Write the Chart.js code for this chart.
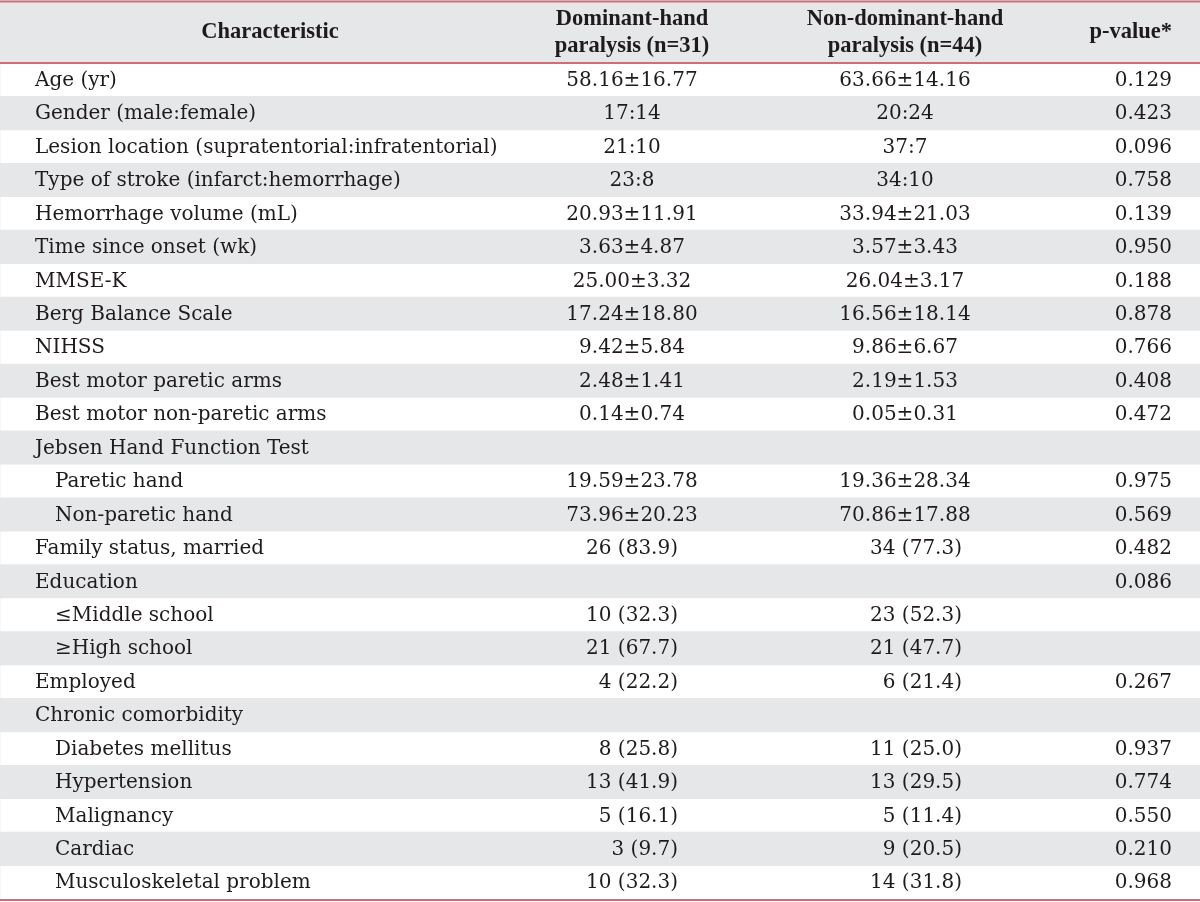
<!DOCTYPE html>
<html>
<head>
<meta charset="utf-8">
<script src="https://cdn.jsdelivr.net/npm/chart.js@4.4.1/dist/chart.umd.min.js"></script>
<style>
  html, body { margin: 0; padding: 0; background: #ffffff; }
  #wrap { width: 1200px; height: 902px; }
</style>
</head>
<body>
<div id="wrap"><canvas id="c" width="1200" height="902"></canvas></div>
<script>
// ---- table content ----
const headers = ["Characteristic", "Dominant-hand\nparalysis (n=31)", "Non-dominant-hand\nparalysis (n=44)", "p-value*"];

const characteristics = [
  "Age (yr)",
  "Gender (male:female)",
  "Lesion location (supratentorial:infratentorial)",
  "Type of stroke (infarct:hemorrhage)",
  "Hemorrhage volume (mL)",
  "Time since onset (wk)",
  "MMSE-K",
  "Berg Balance Scale",
  "NIHSS",
  "Best motor paretic arms",
  "Best motor non-paretic arms",
  "Jebsen Hand Function Test",
  "Paretic hand",
  "Non-paretic hand",
  "Family status, married",
  "Education",
  "\u2264Middle school",
  "\u2265High school",
  "Employed",
  "Chronic comorbidity",
  "Diabetes mellitus",
  "Hypertension",
  "Malignancy",
  "Cardiac",
  "Musculoskeletal problem"
];

const subItems = [
  "Paretic hand", "Non-paretic hand",
  "\u2264Middle school", "\u2265High school",
  "Diabetes mellitus", "Hypertension", "Malignancy", "Cardiac", "Musculoskeletal problem"
];

const dominant = [
  "58.16\u00b116.77", "17:14", "21:10", "23:8", "20.93\u00b111.91", "3.63\u00b14.87",
  "25.00\u00b13.32", "17.24\u00b118.80", "9.42\u00b15.84", "2.48\u00b11.41", "0.14\u00b10.74",
  "", "19.59\u00b123.78", "73.96\u00b120.23", "26 (83.9)", "", "10 (32.3)", "21 (67.7)",
  "4 (22.2)", "", "8 (25.8)", "13 (41.9)", "5 (16.1)", "3 (9.7)", "10 (32.3)"
];

const nonDominant = [
  "63.66\u00b114.16", "20:24", "37:7", "34:10", "33.94\u00b121.03", "3.57\u00b13.43",
  "26.04\u00b13.17", "16.56\u00b118.14", "9.86\u00b16.67", "2.19\u00b11.53", "0.05\u00b10.31",
  "", "19.36\u00b128.34", "70.86\u00b117.88", "34 (77.3)", "", "23 (52.3)", "21 (47.7)",
  "6 (21.4)", "", "11 (25.0)", "13 (29.5)", "5 (11.4)", "9 (20.5)", "14 (31.8)"
];

const pValues = [
  "0.129", "0.423", "0.096", "0.758", "0.139", "0.950", "0.188", "0.878", "0.766",
  "0.408", "0.472", "", "0.975", "0.569", "0.482", "0.086", "", "", "0.267", "",
  "0.937", "0.774", "0.550", "0.210", "0.968"
];

// row shading (1 = grey band, 0 = white)
const rowShade = [0,1,0,1,0,1,0,1,0,1,0,1,0,1,0,1,0,1,0,1,0,1,0,1,0];

// ---- styling ----
const GREY = "#e6e7e9";
const RULE = "#cf6e75";
const INK = "#1f1b1c";
const BODY_FONT = "20px 'DejaVu Serif'";
const HEAD_FONT = "bold 22.5px 'Liberation Serif'";

const tablePlugin = {
  id: "tableText",
  beforeDatasetsDraw(chart) {
    const ctx = chart.ctx;
    const area = chart.chartArea;
    ctx.save();
    ctx.fillStyle = GREY;
    ctx.fillRect(0, 0, chart.width, area.top);
    ctx.restore();
  },
  afterDatasetsDraw(chart) {
    const ctx = chart.ctx;
    const area = chart.chartArea;
    const x = chart.scales.x;
    const y = chart.scales.y;
    ctx.save();
    ctx.fillStyle = INK;
    ctx.textBaseline = "middle";

    // header
    ctx.font = HEAD_FONT;
    const hMid = area.top / 2 + 1;
    const headAnchors = [[270, "center"], [632, "center"], [905, "center"], [1172, "right"]];
    headers.forEach((h, i) => {
      const lines = h.split("\n");
      ctx.textAlign = headAnchors[i][1];
      const px = x.getPixelForValue(headAnchors[i][0]);
      const lh = 27;
      lines.forEach((ln, k) => {
        const py = hMid + (k - (lines.length - 1) / 2) * lh;
        ctx.fillText(ln, px, py);
      });
    });

    // body
    ctx.font = BODY_FONT;
    characteristics.forEach((label, i) => {
      const py = y.getPixelForValue(i) + 1;
      ctx.textAlign = "left";
      const ind = subItems.includes(label) ? 55 : 35;
      ctx.fillText(label, x.getPixelForValue(ind), py);

      const cols = [[dominant[i], 632, 678], [nonDominant[i], 905, 962]];
      cols.forEach(([txt, c, r]) => {
        if (!txt) return;
        if (txt.indexOf("(") >= 0) {
          ctx.textAlign = "right";
          ctx.fillText(txt, x.getPixelForValue(r), py);
        } else {
          ctx.textAlign = "center";
          ctx.fillText(txt, x.getPixelForValue(c), py);
        }
      });
      if (pValues[i]) {
        ctx.textAlign = "right";
        ctx.fillText(pValues[i], x.getPixelForValue(1172), py);
      }
    });

    // rules
    ctx.strokeStyle = RULE;
    ctx.lineWidth = 2;
    [1.5, area.top, area.bottom + 1].forEach(ry => {
      ctx.beginPath();
      ctx.moveTo(0, ry);
      ctx.lineTo(chart.width, ry);
      ctx.stroke();
    });
    ctx.restore();
  }
};

new Chart(document.getElementById("c"), {
  type: "bar",
  data: {
    labels: characteristics,
    datasets: [{
      data: rowShade,
      xAxisID: "xBand",
      backgroundColor: GREY,
      borderWidth: 0,
      barPercentage: 1,
      categoryPercentage: 1
    }]
  },
  options: {
    indexAxis: "y",
    responsive: false,
    animation: false,
    events: [],
    layout: { padding: { top: 63, bottom: 3, left: 0, right: 0 } },
    plugins: { legend: { display: false }, tooltip: { enabled: false }, title: { display: false } },
    scales: {
      y: { type: "category", display: false, offset: true, grid: { display: false } },
      xBand: { type: "linear", axis: "x", position: "bottom", display: false, min: 0, max: 1 },
      x: { type: "linear", position: "bottom", display: false, min: 0, max: 1200 }
    }
  },
  plugins: [tablePlugin]
});
</script>
</body>
</html>
